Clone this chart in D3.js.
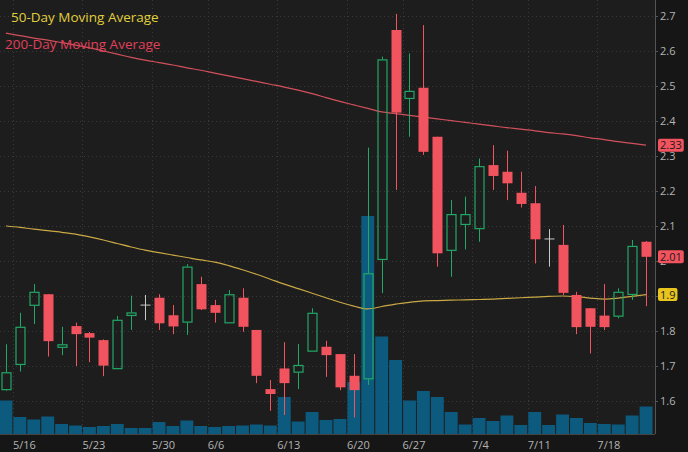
<!DOCTYPE html>
<html>
<head>
<meta charset="utf-8">
<script src="https://cdn.jsdelivr.net/npm/d3@7"></script>
<style>
  html, body { margin: 0; padding: 0; background: #161616; }
  svg { display: block; }
</style>
</head>
<body>
<div id="chart"></div>
<script>
// daily bars, 5/13 .. 7/21
const dates = [
  "5/13",
  "5/16", "5/17", "5/18", "5/19", "5/20",
  "5/23", "5/24", "5/25", "5/26", "5/27",
  "5/31", "6/1", "6/2", "6/3",
  "6/6", "6/7", "6/8", "6/9", "6/10",
  "6/13", "6/14", "6/15", "6/16", "6/17",
  "6/21", "6/22", "6/23", "6/24",
  "6/27", "6/28", "6/29", "6/30", "7/1",
  "7/5", "7/6", "7/7", "7/8",
  "7/11", "7/12", "7/13", "7/14", "7/15",
  "7/18", "7/19", "7/20", "7/21"
];
const open = [
  1.631, 1.703, 1.872, 1.905, 1.752, 1.814, 1.794, 1.774, 1.691, 1.843,
  1.874, 1.895, 1.845, 1.824, 1.934, 1.874, 1.822, 1.895, 1.803, 1.634,
  1.693, 1.681, 1.741, 1.755, 1.734, 1.672, 1.662, 2.003, 2.660, 2.463,
  2.495, 2.355, 2.029, 2.103, 2.091, 2.274, 2.255, 2.195, 2.165, 2.063,
  2.046, 1.903, 1.865, 1.844, 1.841, 1.903, 2.055
];
const high = [
  1.762, 1.852, 1.934, 1.905, 1.812, 1.824, 1.797, 1.776, 1.843, 1.901,
  1.903, 1.905, 1.874, 1.991, 1.955, 1.889, 1.917, 1.922, 1.803, 1.660,
  1.768, 1.763, 1.865, 1.772, 1.734, 1.734, 2.324, 2.584, 2.706, 2.593,
  2.674, 2.355, 2.174, 2.184, 2.293, 2.331, 2.315, 2.255, 2.214, 2.091,
  2.103, 1.912, 1.865, 1.934, 1.922, 2.060, 2.057
];
const low = [
  1.629, 1.684, 1.820, 1.727, 1.731, 1.700, 1.711, 1.671, 1.691, 1.803,
  1.831, 1.803, 1.791, 1.789, 1.860, 1.824, 1.822, 1.798, 1.651, 1.572,
  1.560, 1.634, 1.741, 1.669, 1.631, 1.553, 1.646, 1.908, 2.203, 2.355,
  2.303, 1.984, 1.955, 2.033, 2.055, 2.203, 2.174, 2.153, 1.993, 1.984,
  1.903, 1.791, 1.736, 1.803, 1.836, 1.889, 1.871
];
const close = [
  1.682, 1.812, 1.912, 1.771, 1.762, 1.791, 1.781, 1.701, 1.832, 1.853,
  1.874, 1.822, 1.813, 1.984, 1.862, 1.852, 1.905, 1.812, 1.672, 1.620,
  1.651, 1.703, 1.852, 1.731, 1.639, 1.631, 1.965, 2.576, 2.424, 2.486,
  2.312, 2.022, 2.134, 2.134, 2.271, 2.243, 2.222, 2.163, 2.062, 2.063,
  1.909, 1.811, 1.812, 1.811, 1.912, 2.043, 2.012
];
// volume, thousands of shares
const volume = [
  670, 340, 290, 350, 200, 170, 140, 160, 200, 120,
  120, 240, 160, 270, 160, 140, 160, 170, 190, 170,
  740, 250, 440, 280, 300, 1040, 4360, 1950, 1480, 670,
  860, 740, 440, 190, 320, 260, 370, 180, 440, 180,
  390, 320, 220, 200, 190, 370, 550
];
const ma50 = [
  2.100, 2.096, 2.091, 2.087, 2.082, 2.077, 2.069, 2.060, 2.050, 2.040,
  2.031, 2.024, 2.017, 2.010, 2.003, 1.997, 1.987, 1.975, 1.962, 1.948,
  1.934, 1.921, 1.908, 1.895, 1.882, 1.871, 1.863, 1.870, 1.877, 1.882,
  1.886, 1.887, 1.888, 1.889, 1.890, 1.891, 1.893, 1.895, 1.897, 1.899,
  1.900, 1.898, 1.894, 1.891, 1.894, 1.899, 1.904
];
const ma200 = [
  2.651, 2.644, 2.637, 2.631, 2.624, 2.617, 2.609, 2.600, 2.591, 2.582,
  2.574, 2.567, 2.560, 2.552, 2.545, 2.537, 2.529, 2.521, 2.513, 2.505,
  2.497, 2.488, 2.478, 2.467, 2.456, 2.446, 2.436, 2.426, 2.421, 2.416,
  2.411, 2.406, 2.401, 2.396, 2.391, 2.386, 2.381, 2.377, 2.372, 2.367,
  2.363, 2.358, 2.352, 2.347, 2.341, 2.336, 2.331
];
const tickDates = ["5/16", "5/23", "5/31", "6/6", "6/13", "6/21", "6/27", "7/5", "7/11", "7/18"];
const tickLabels = ["5/16", "5/23", "5/30", "6/6", "6/13", "6/20", "6/27", "7/4", "7/11", "7/18"];
const priceTicks = [1.6, 1.7, 1.8, 1.9, 2.0, 2.1, 2.2, 2.3, 2.4, 2.5, 2.6, 2.7];

const width = 688;
const height = 452;
const plotW = 655;
const plotH = 434;

const colors = {
  up: "#22a866",
  down: "#f2545f",
  flat: "#c8c8c8",
  vol: "#0c5a7e",
  ma50: "#c9a845",
  ma200: "#d2505c"
};

const svg = d3
  .select("#chart")
  .append("svg")
  .attr("width", width)
  .attr("height", height)
  .style("font-family", "'Open Sans', sans-serif");

svg.append("rect").attr("width", width).attr("height", height).attr("fill", "#161616");
svg.append("rect").attr("width", plotW).attr("height", plotH).attr("fill", "#1d1d1d");

// scales
const x = d3.scaleBand().domain(dates).range([-1, 653]).paddingInner(0);
const y = d3.scaleLinear().domain([1.6, 2.7]).range([401, 16]);
const yv = d3.scaleLinear().domain([0, 5000]).range([plotH, 184]);
const cx = (d) => x(d) + x.bandwidth() / 2;

svg.append("clipPath").attr("id", "plot-clip")
  .append("rect").attr("width", plotW).attr("height", plotH);

const plot = svg.append("g").attr("clip-path", "url(#plot-clip)");

// grid
plot
  .append("g")
  .selectAll("line")
  .data(priceTicks)
  .join("line")
  .attr("x1", 0)
  .attr("x2", plotW)
  .attr("y1", (d) => Math.round(y(d)) + 0.5)
  .attr("y2", (d) => Math.round(y(d)) + 0.5)
  .attr("stroke", "#3a3a3a")
  .attr("stroke-dasharray", "1,3");

plot
  .append("g")
  .selectAll("line")
  .data(tickDates)
  .join("line")
  .attr("x1", (d) => Math.round(x(d)) + 0.5)
  .attr("x2", (d) => Math.round(x(d)) + 0.5)
  .attr("y1", 0)
  .attr("y2", plotH)
  .attr("stroke", "#3a3a3a")
  .attr("stroke-dasharray", "1,3");

// volume
plot
  .append("g")
  .selectAll("rect")
  .data(dates)
  .join("rect")
  .attr("x", (d) => x(d) + 0.5)
  .attr("width", x.bandwidth() - 1)
  .attr("y", (d, i) => yv(volume[i]))
  .attr("height", (d, i) => plotH - yv(volume[i]))
  .attr("fill", colors.vol);

// moving averages
const maLine = (vals) =>
  d3.line().x((d) => cx(d)).y((d, i) => y(vals[i])).curve(d3.curveMonotoneX)(dates);

plot.append("path").attr("d", maLine(ma200))
  .attr("fill", "none").attr("stroke", colors.ma200).attr("stroke-width", 1.2);
plot.append("path").attr("d", maLine(ma50))
  .attr("fill", "none").attr("stroke", colors.ma50).attr("stroke-width", 1.2);

// candles
const candles = plot.append("g");
dates.forEach(function (d, i) {
  const o = open[i], c = close[i];
  const color = c > o ? colors.up : c < o ? colors.down : colors.flat;
  const xc = Math.round(cx(d)) + 0.5;
  const top = y(Math.max(o, c));
  const bot = y(Math.min(o, c));
  const bw = 10;

  if (c > o) {
    // hollow body, wick stops at the body
    candles.append("line").attr("x1", xc).attr("x2", xc)
      .attr("y1", y(high[i])).attr("y2", top).attr("stroke", color);
    candles.append("line").attr("x1", xc).attr("x2", xc)
      .attr("y1", bot).attr("y2", y(low[i])).attr("stroke", color);
    candles.append("rect")
      .attr("x", xc - bw / 2 + 0.5).attr("width", bw - 1)
      .attr("y", top + 0.5).attr("height", Math.max(1, bot - top - 1))
      .attr("fill", "none").attr("stroke", color).attr("stroke-width", 1.2);
  } else if (c < o) {
    candles.append("line").attr("x1", xc).attr("x2", xc)
      .attr("y1", y(high[i])).attr("y2", y(low[i])).attr("stroke", color);
    candles.append("rect")
      .attr("x", xc - bw / 2).attr("width", bw)
      .attr("y", top).attr("height", Math.max(1, bot - top))
      .attr("fill", color);
  } else {
    candles.append("line").attr("x1", xc).attr("x2", xc)
      .attr("y1", y(high[i])).attr("y2", y(low[i])).attr("stroke", color);
    candles.append("line").attr("x1", xc - bw / 2).attr("x2", xc + bw / 2)
      .attr("y1", top).attr("y2", top).attr("stroke", color);
  }
});

// right price axis
const yAxis = svg
  .append("g")
  .attr("transform", `translate(${plotW},0)`)
  .call(
    d3.axisRight(y).tickValues(priceTicks).tickSize(3).tickPadding(2)
      .tickFormat((d) => String(+d.toFixed(1)))
  );
yAxis.select(".domain").attr("stroke", "#555").attr("d", `M0.5,0V${plotH}`);
yAxis.selectAll(".tick line").attr("stroke", "#555");
yAxis.selectAll(".tick text").attr("fill", "#b4b4b4").style("font-size", "11px")
  .style("font-family", "'Open Sans', sans-serif");

// bottom date axis
const xAxis = svg
  .append("g")
  .attr("transform", `translate(0,${plotH})`)
  .call(
    d3.axisBottom(x).tickValues(tickDates).tickSize(0).tickPadding(7)
      .tickFormat((d, i) => tickLabels[i])
  );
xAxis.select(".domain").attr("stroke", "#444").attr("d", `M0,0.5H${plotW}`);
xAxis.selectAll(".tick text")
  .attr("text-anchor", "start")
  .attr("x", -x.bandwidth() / 2)
  .attr("fill", "#b4b4b4")
  .style("font-size", "11px")
  .style("font-family", "'Open Sans', sans-serif");

// last-value tags
const fmt = d3.format(".2~f");
const tags = [
  { v: ma200[ma200.length - 1], fill: colors.down },
  { v: close[close.length - 1], fill: colors.down },
  { v: ma50[ma50.length - 1], fill: "#e8c41e" }
];
tags.forEach(function (t) {
  const g = svg.append("g").attr("transform", `translate(658,${y(t.v)})`);
  const txt = g.append("text").text(fmt(t.v))
    .attr("x", 2).attr("dy", "0.36em")
    .attr("fill", "#1a1a1a").style("font-size", "11px");
  const w = txt.node().getComputedTextLength() + 4;
  g.insert("rect", "text").attr("x", 0).attr("y", -6.5)
    .attr("width", w).attr("height", 13).attr("rx", 2).attr("fill", t.fill);
});

// legend
svg.append("text").attr("x", 11).attr("y", 22).text("50-Day Moving Average")
  .attr("fill", "#e0cf3c").style("font-size", "13.5px");
svg.append("text").attr("x", 5).attr("y", 49).text("200-Day Moving Average")
  .attr("fill", "#e0405a").style("font-size", "13.5px");
</script>
</body>
</html>
